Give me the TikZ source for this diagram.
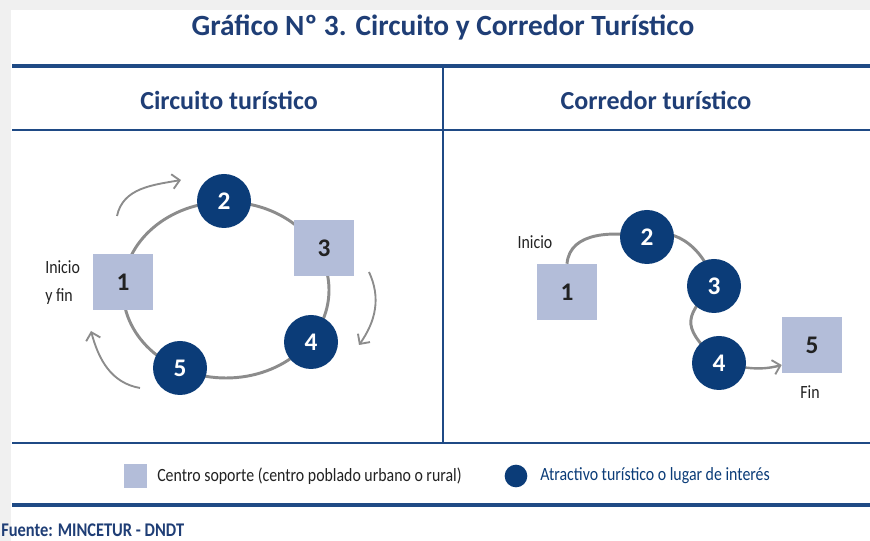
\documentclass[tikz,border=0pt]{standalone}
\usepackage{fontspec}
\setmainfont{Carlito}[FakeStretch=0.85]
\newfontfamily\widefont{Carlito}
\usetikzlibrary{arrows.meta,backgrounds}
\definecolor{navy}{HTML}{0B3C78}
\definecolor{titleblue}{HTML}{1F3E76}
\definecolor{lineblue}{HTML}{1F4A85}
\definecolor{lavender}{HTML}{B3BDD9}
\definecolor{arrowgray}{HTML}{8C8C8C}
\definecolor{darktext}{HTML}{222222}
\definecolor{edgegray}{HTML}{F0F0F0}
\tikzset{
  sqbox/.style={fill=lavender, minimum width=45pt, minimum height=42pt, inner sep=0pt,
    text=darktext, font=\widefont\fontsize{19}{19}\selectfont\bfseries},
  dot/.style={circle, fill=navy, minimum size=40.5pt, inner sep=0pt,
    text=white, font=\widefont\fontsize{19}{19}\selectfont\bfseries},
  ring/.style={draw=arrowgray, line width=2.2pt},
  turn/.style={draw=arrowgray, line width=1.4pt, -{Straight Barb[length=5.5pt,width=11pt,line width=1.4pt]}},
  header/.style={text=titleblue, font=\widefont\fontsize{19.5}{19.5}\selectfont\bfseries},
  lbl/.style={text=darktext, font=\fontsize{14}{16}\selectfont},
  thickrule/.style={draw=lineblue, line width=2.3pt},
  thinrule/.style={draw=lineblue, line width=1.1pt}
}
\begin{document}
\begin{tikzpicture}[x=0.75pt,y=0.75pt]
\useasboundingbox (0,0) rectangle (870,541);
\begin{scope}[on background layer]
\fill[edgegray] (0,0) rectangle (870,541);
\fill[white] (11,0) rectangle (870,531);
\end{scope}
% title
\node[text=titleblue, font=\widefont\fontsize{22}{22}\selectfont\bfseries] (title) at (443,513) {Gráfico Nº 3. Circuito y Corredor Turístico};
% rules
\draw[thickrule] (12,475) -- (870,475);
\draw[thinrule] (12,411) -- (870,411);
\draw[thinrule] (443,475) -- (443,98);
\draw[thinrule] (12,98) -- (870,98);
\draw[thickrule] (12,36) -- (870,36);
% headers
\node[header] (h1) at (229,441) {Circuito turístico};
\node[header] (h2) at (656,441) {Corredor turístico};
% left: circuit
\coordinate (ringc) at (226,251);
\node[sqbox] (c1) at (123,259) {1};
\node[dot] (c2) at (224,340) {2};
\node[sqbox] (c3) at (324,293) {3};
\node[dot] (c4) at (311,199) {4};
\node[dot] (c5) at (180,173) {5};
\node[lbl, anchor=west, align=left, inner sep=0pt] (ini) at (45,258) {Inicio\\[5pt]y fin};
\begin{scope}[on background layer]
  \draw[ring] (ringc) ellipse [x radius=77.25pt, y radius=66pt];
\end{scope}
\coordinate (a1s) at (117,325);
\coordinate (a1e) at (181,361);
\coordinate (a2s) at (369,269);
\coordinate (a2e) at (359,196);
\coordinate (a3s) at (140,153);
\coordinate (a3e) at (91,210);
\draw[turn] (a1s) to[out=78,in=190] (a1e);
\draw[turn] (a2s) to[out=-65,in=55] (a2e);
\draw[turn] (a3s) to[out=170,in=-75] (a3e);
% right: corridor
\node[sqbox] (r1) at (567,249) {1};
\node[dot] (r2) at (647,304) {2};
\node[dot] (r3) at (714,255) {3};
\node[dot] (r4) at (719,178) {4};
\node[sqbox] (r5) at (812,196) {5};
\node[lbl] (rini) at (535,299) {Inicio};
\node[lbl] (rfin) at (810,149) {Fin};
\begin{scope}[on background layer]
  \draw[ring] (r1.north) to[out=85,in=170] (r2.center);
  \draw[ring] (r2.center) to[out=25,in=100] (r3.center);
  \draw[ring] (r3.center) to[out=225,in=135,looseness=1.6] (r4.center);
  \draw[ring, line width=1.8pt, -{Straight Barb[length=5.5pt,width=11pt,line width=1.4pt]}] (r4.center) to[out=-10,in=195] ([yshift=-15pt]r5.west);
\end{scope}
% legend
\node[fill=lavender, minimum width=17pt, minimum height=18pt, inner sep=0pt] (legsq) at (135.5,65) {};
\node[lbl, anchor=west, inner sep=0pt] (legsqt) at (157,65) {Centro soporte (centro poblado urbano o rural)};
\node[circle, fill=navy, minimum size=17pt, inner sep=0pt] (legdot) at (516,65) {};
\node[lbl, text=navy, anchor=west, inner sep=0pt] (legdott) at (540,65) {Atractivo turístico o lugar de interés};
% source
\node[text=titleblue, font=\fontsize{14.5}{14.5}\selectfont\bfseries, anchor=west, inner sep=0pt] (src) at (1,11) {Fuente: MINCETUR - DNDT};
\end{tikzpicture}
\end{document}
